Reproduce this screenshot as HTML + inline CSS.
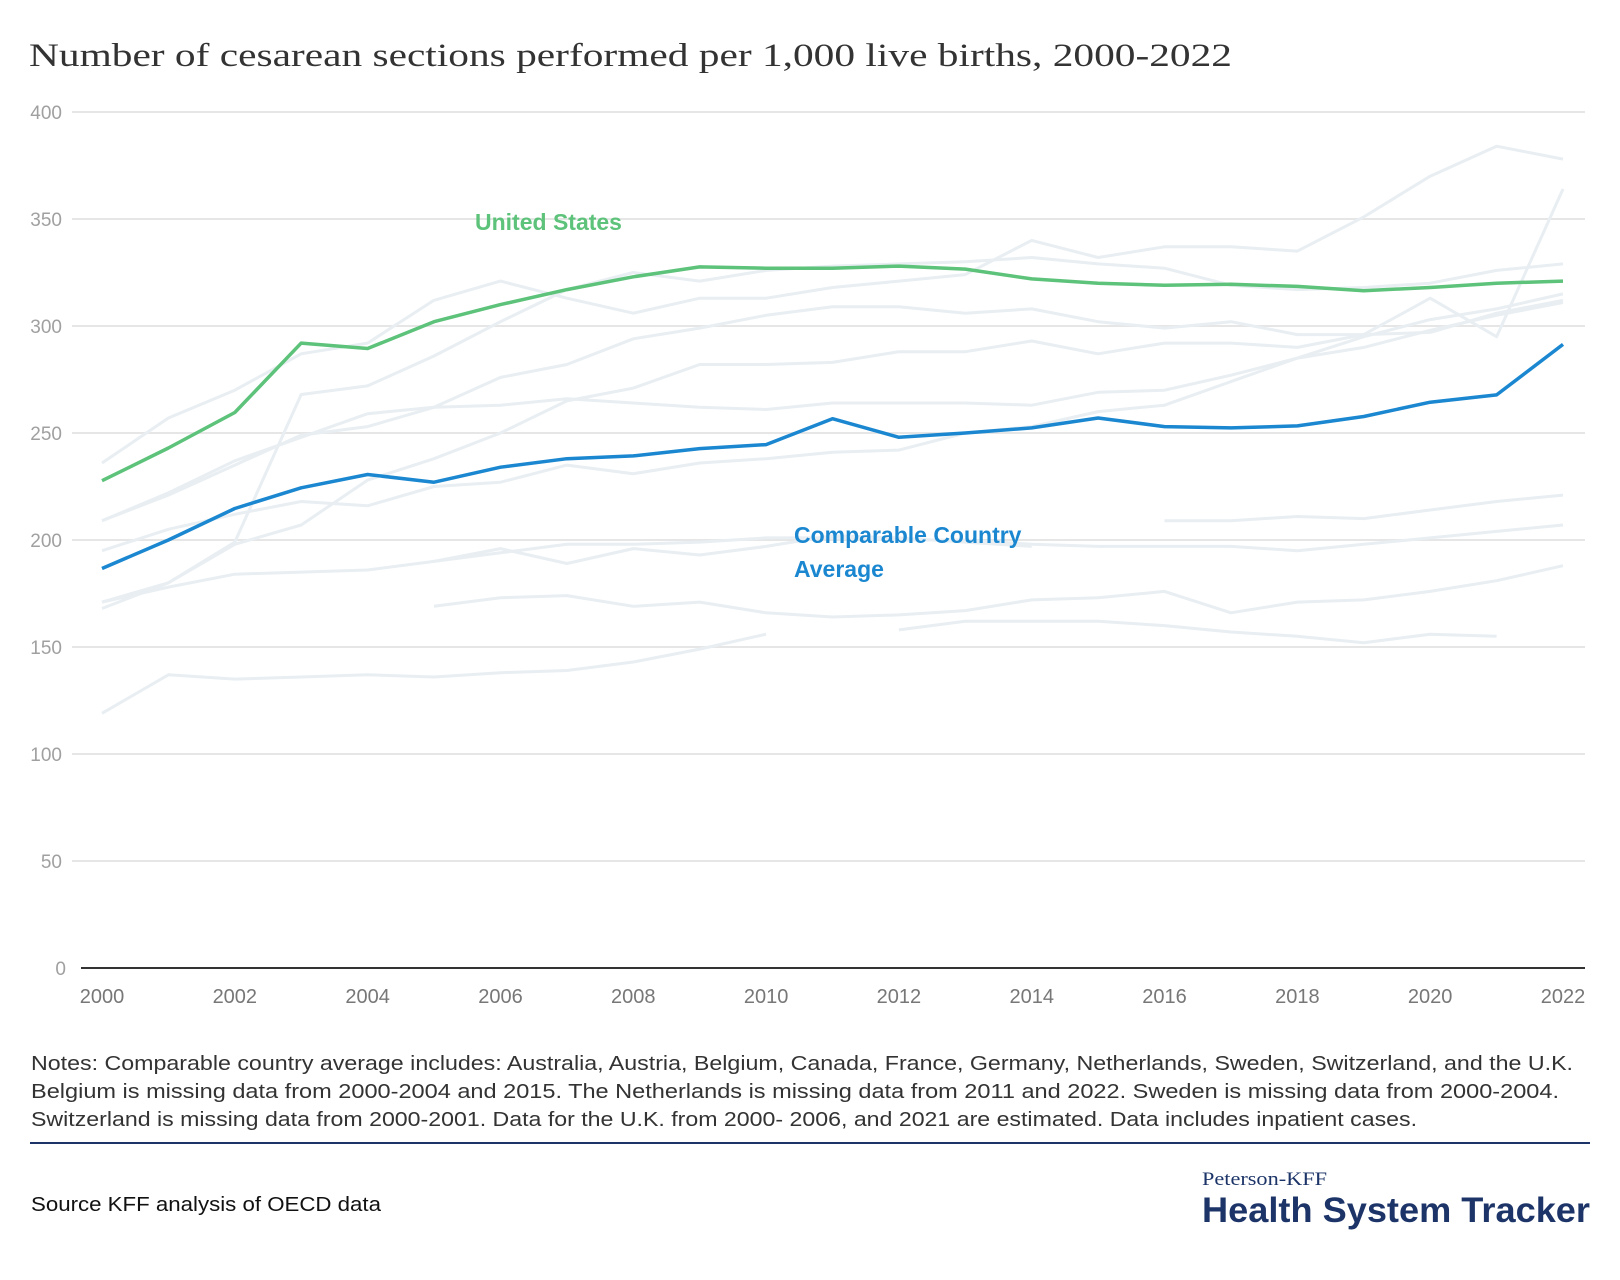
<!DOCTYPE html>
<html><head><meta charset="utf-8">
<style>
body{margin:0;background:#fff;width:1620px;height:1280px;overflow:hidden;font-family:"Liberation Sans",sans-serif;}
svg{position:absolute;left:0;top:0}
</style></head>
<body>
<svg id="chart" width="1620" height="1280">
  <text x="29" y="66" font-family="Liberation Serif, serif" font-size="33" fill="#333" textLength="1203" lengthAdjust="spacingAndGlyphs">Number of cesarean sections performed per 1,000 live births, 2000-2022</text>
  <g id="grid"></g>
  <g id="gray"></g>
  <g id="main"></g>
  <text x="475" y="230" font-size="23" font-weight="bold" fill="#5dc27a">United States</text>
  <text x="794" y="543" font-size="23" font-weight="bold" fill="#1a87d0">Comparable Country</text>
  <text x="794" y="577" font-size="23" font-weight="bold" fill="#1a87d0">Average</text>
  <g font-size="20" fill="#333">
    <text x="31" y="1070" textLength="1542" lengthAdjust="spacingAndGlyphs">Notes: Comparable country average includes: Australia, Austria, Belgium, Canada, France, Germany, Netherlands, Sweden, Switzerland, and the U.K.</text>
    <text x="31" y="1098" textLength="1528" lengthAdjust="spacingAndGlyphs">Belgium is missing data from 2000-2004 and 2015. The Netherlands is missing data from 2011 and 2022. Sweden is missing data from 2000-2004.</text>
    <text x="31" y="1126" textLength="1386" lengthAdjust="spacingAndGlyphs">Switzerland is missing data from 2000-2001. Data for the U.K. from 2000- 2006, and 2021 are estimated. Data includes inpatient cases.</text>
  </g>
  <rect x="30" y="1142" width="1560" height="2" fill="#1c3468"/>
  <text x="31" y="1211" font-size="20" fill="#111" textLength="350" lengthAdjust="spacingAndGlyphs">Source KFF analysis of OECD data</text>
  <text x="1202" y="1185" font-family="Liberation Serif, serif" font-size="19" fill="#1c3468" textLength="125" lengthAdjust="spacingAndGlyphs">Peterson-KFF</text>
  <text x="1202" y="1222" font-size="35" font-weight="bold" fill="#1c3468" textLength="388" lengthAdjust="spacingAndGlyphs">Health System Tracker</text>
</svg>
<script>
const years=[2000,2001,2002,2003,2004,2005,2006,2007,2008,2009,2010,2011,2012,2013,2014,2015,2016,2017,2018,2019,2020,2021,2022];
const yTicks=[0,50,100,150,200,250,300,350,400];
const xTicks=[2000,2002,2004,2006,2008,2010,2012,2014,2016,2018,2020,2022];
const usValues=[227.7,243,259.6,292,289.5,302,310,317,323,327.6,327,327,328,326.6,322,320,319,319.5,318.5,316.5,318,320,321];
const avgValues=[186.7,200,214.7,224.4,230.6,227,234,238,239.3,242.7,244.6,256.7,248,250,252.4,257,253,252.4,253.3,257.7,264.4,267.8,291.4];
const n=null;
const countryA=[236,257,270,287,292,312,321,313,306,313,313,318,321,324,340,332,337,337,335,351,370,384,378];
const countryB=[171,180,199,268,272,286,302,317,325,321,326,328,329,330,332,329,327,319,317,318,320,326,329];
const countryC=[209,222,237,248,259,262,263,266,264,262,261,264,264,264,263,269,270,277,285,295,303,308,315];
const countryD=[209,221,235,249,253,262,276,282,294,299,305,309,309,306,308,302,299,302,296,296,297,306,312];
const countryE=[168,180,198,207,228,238,250,265,271,282,282,283,288,288,293,287,292,292,290,296,313,295,364];
const countryF=[195,205,212,218,216,225,227,235,231,236,238,241,242,250,253,260,263,274,285,290,298,305,311];
const sweden=[n,n,n,n,n,169,173,174,169,171,166,164,165,167,172,173,176,166,171,172,176,181,188];
const belgium=[n,n,n,n,n,190,196,189,196,193,197,202,201,199,197,n,209,209,211,210,214,218,221];
const countryH=[171,178,184,185,186,190,194,198,198,199,201,201,200,200,198,197,197,197,195,198,201,204,207];
const netherlands=[119,137,135,136,137,136,138,139,143,149,156,n,158,162,162,162,160,157,155,152,156,155,n];
const grays=[countryA,countryB,countryC,countryD,countryE,countryF,sweden,belgium,countryH,netherlands];

const X0=102,X1=1563,Y0=968,Y1=112;
const xs=y=>X0+(y-2000)*(X1-X0)/22;
const ys=v=>Y0-v*(Y0-Y1)/400;
const NS='http://www.w3.org/2000/svg';
function mk(tag,attrs,parent){const e=document.createElementNS(NS,tag);for(const k in attrs)e.setAttribute(k,attrs[k]);parent.appendChild(e);return e;}
const grid=document.getElementById('grid');
yTicks.forEach(t=>{
  if(t>0){const l=mk('line',{x1:72,x2:1585,y1:ys(t),y2:ys(t),stroke:'#e6e6e6','stroke-width':2},grid);
  
  }
  const tx=mk('text',{x:t===0?66:62,y:ys(t)+7,'text-anchor':'end','font-size':19,fill:'#a0a0a0'},grid);
  tx.textContent=t;
  
  
});
const ax=mk('line',{x1:81,x2:1585,y1:Y0,y2:Y0,stroke:'#333','stroke-width':2},grid);


xTicks.forEach(t=>{
  const tx=mk('text',{x:xs(t),y:1003,'text-anchor':'middle','font-size':20,fill:'#777'},grid);
  tx.textContent=t;
  
  
});
function pathFor(arr){let d='',pen=false;arr.forEach((v,i)=>{if(v===null){pen=false;return;}d+=(pen?'L':'M')+xs(years[i]).toFixed(1)+','+ys(v).toFixed(1);pen=true;});return d;}
const gg=document.getElementById('gray');
grays.forEach(arr=>{
  const p=mk('path',{d:pathFor(arr),fill:'none',stroke:'#e8eef2','stroke-width':3,'stroke-linejoin':'round'},gg);
  
  
});
const mg=document.getElementById('main');
const pa=mk('path',{d:pathFor(avgValues),fill:'none',stroke:'#1a87d0','stroke-width':3.5,'stroke-linejoin':'round'},mg);


const pu=mk('path',{d:pathFor(usValues),fill:'none',stroke:'#5dc27a','stroke-width':3.5,'stroke-linejoin':'round'},mg);


</script>
</body></html>
